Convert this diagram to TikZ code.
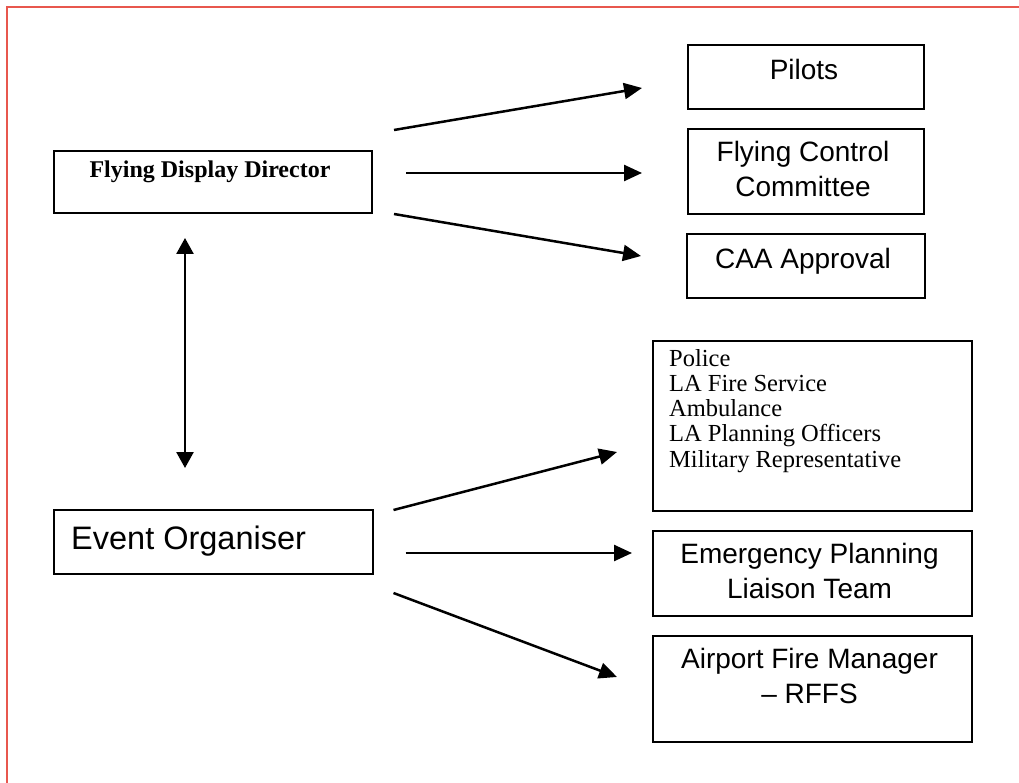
\documentclass[tikz,border=0pt]{standalone}
\usepackage{fontspec}
\setmainfont{Liberation Serif}
\setsansfont{Liberation Sans}
\usepackage{tikz}
\usetikzlibrary{arrows.meta, positioning, calc}
\definecolor{framered}{HTML}{E8574E}

\begin{document}
\begin{tikzpicture}[
    x=1pt, y=-1pt,
    node distance=20pt,
    box/.style={draw, line width=2.5pt, inner sep=0pt, outer sep=0pt},
    smallbox/.style={box, minimum width=236pt, minimum height=64pt},
    widebox/.style={box, minimum width=319pt},
    sanslabel/.style={font=\sffamily\fontsize{28}{35}\selectfont, align=center, inner sep=0pt},
    bigsanslabel/.style={font=\sffamily\fontsize{32.5}{38}\selectfont, inner sep=0pt},
    boldlabel/.style={font=\bfseries\fontsize{24}{29}\selectfont, inner sep=0pt},
    listlabel/.style={font=\fontsize{24.5}{25.2}\selectfont, align=left, inner sep=0pt},
    arrow/.style={-{Triangle[length=18pt,width=16pt]}, line width=2.5pt},
    twoway/.style={{Triangle[length=16pt,width=17pt]}-{Triangle[length=16pt,width=17pt]}, line width=2.5pt}
  ]
  \useasboundingbox (0,0) rectangle (1019,783);

  % ===== frame =====
  \draw[framered, line width=2pt] (7,783) -- (7,7) -- (1019,7);

  % ===== left side =====
  \node[widebox, minimum width=318pt, minimum height=62pt] (fdd) at (213,182) {};
  \node[boldlabel, anchor=base] (fddtext) at ($(fdd.north)+(-3,27)$)
    {Flying Display Director};

  \node[widebox, minimum height=64pt] (eo) at (213.5,542) {};
  \node[bigsanslabel, anchor=base west] (eotext) at ($(eo.north west)+(17,39)$)
    {Event Organiser};

  % ===== flying side =====
  \node[smallbox] (pilots) at (806,77) {};
  \node[box, minimum width=236pt, minimum height=85pt, below=of pilots] (fcc) {};
  \node[smallbox, minimum width=238pt, below=of fcc] (caa) {};

  % (base of a multi-line label = its last line)
  \node[sanslabel, anchor=base] (pilotstext) at ($(pilots.north)+(-2,35)$) {Pilots};
  \node[sanslabel, anchor=base] (fcctext) at ($(fcc.north)+(-3,68)$)
    {Flying Control\\Committee};
  \node[sanslabel, anchor=base] (caatext) at ($(caa.north)+(-3,35)$) {CAA Approval};

  % ===== event side =====
  \node[widebox, minimum height=170pt] (agencies) at (812.5,426) {};
  \node[widebox, minimum height=85pt, below=of agencies] (eplt) {};
  \node[widebox, minimum height=106pt, below=of eplt] (afm) {};

  \node[listlabel, anchor=base west] (agenciestext) at ($(agencies.north west)+(16,126)$)
    {Police\\LA Fire Service\\Ambulance\\LA Planning Officers\\Military Representative};
  \node[sanslabel, anchor=base] (eplttext) at ($(eplt.north)+(-3,67)$)
    {Emergency Planning\\Liaison Team};
  \node[sanslabel, anchor=base] (afmtext) at ($(afm.north)+(-3,67)$)
    {Airport Fire Manager\\-- RFFS};

  % ===== arrow ends =====
  \coordinate (fdd-up)   at ($(fdd.east)+(22,-52)$);
  \coordinate (fdd-mid)  at ($(fdd.east)+(34,-9)$);
  \coordinate (fdd-down) at ($(fdd.east)+(22,32)$);
  \coordinate (pilots-in) at ($(pilots.west)+(-46,11)$);
  \coordinate (fcc-in)    at ($(fcc.west)+(-46,1.5)$);
  \coordinate (caa-in)    at ($(caa.west)+(-46,-10)$);

  \coordinate (eo-up)   at ($(eo.east)+(20.5,-32)$);
  \coordinate (eo-mid)  at ($(eo.east)+(32.5,11)$);
  \coordinate (eo-down) at ($(eo.east)+(20.5,51)$);
  \coordinate (agencies-in) at ($(agencies.west)+(-36,26)$);
  \coordinate (eplt-in)     at ($(eplt.west)+(-21,-20.5)$);
  \coordinate (afm-in)      at ($(afm.west)+(-36,-12)$);

  \coordinate (fdd-below) at ($(fdd.south)+(-28,25)$);
  \coordinate (eo-above)  at ($(eo.north)+(-28.5,-42)$);

  % ===== connectors =====
  \draw[arrow] (fdd-up) -- (pilots-in);
  \draw[arrow] (fdd-mid) -- (fcc-in);
  \draw[arrow] (fdd-down) -- (caa-in);

  \draw[arrow] (eo-up) -- (agencies-in);
  \draw[arrow] (eo-mid) -- (eplt-in);
  \draw[arrow] (eo-down) -- (afm-in);

  \draw[twoway] (fdd-below) -- (eo-above);

\end{tikzpicture}
\end{document}
